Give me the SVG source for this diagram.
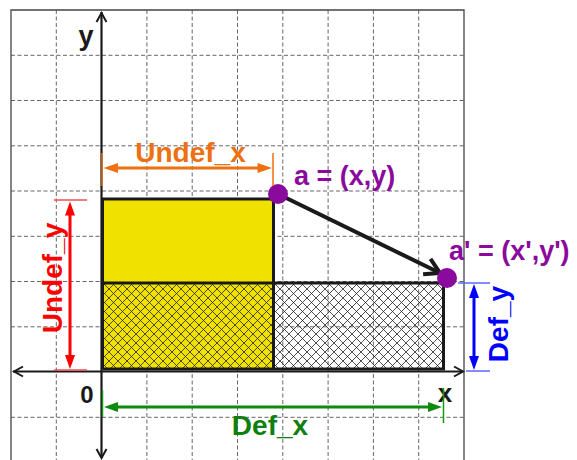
<svg xmlns="http://www.w3.org/2000/svg" width="577" height="460" viewBox="0 0 577 460">
<style>
.grid{stroke:#666;stroke-width:1;stroke-dasharray:4 2.5;fill:none}
.frame{stroke:#444;stroke-width:1.3;fill:none}
.axis{stroke:#1a1a1a;stroke-width:2.2;fill:none}
.chev{stroke:#1a1a1a;stroke-width:2;fill:none;stroke-linejoin:miter}
.box{stroke:#1a1a1a;stroke-width:3;fill:none}
.lbl{font-family:"Liberation Sans",Arial,sans-serif;font-weight:bold}
.pt{fill:#8A0A9E}
</style>
<defs>
<pattern id="hatch" patternUnits="userSpaceOnUse" width="9" height="9" x="1" y="1">
<path d="M0,0 L9,9 M9,0 L0,9 M-1,8 L1,10 M8,-1 L10,1 M8,10 L10,8 M-1,1 L1,-1" stroke="#222" stroke-width="0.8" fill="none"/>
</pattern>
</defs>
<rect width="577" height="460" fill="#fff"/>
<g id="grid">
<path class="grid" d="M56.3,10V460M146.9,10V460M192.2,10V460M237.5,10V460M282.8,10V460M328.1,10V460M373.4,10V460M418.7,10V460"/>
<path class="grid" d="M11,55.3H464M11,100.5H464M11,145.8H464M11,191H464M11,236.3H464M11,281.5H464M11,326.8H464M11,417.3H464"/>
<path class="frame" d="M11,460V10H464V460"/>
</g>
<g id="regions">
<rect id="undef-rect" x="102.5" y="199" width="171" height="84" fill="#F0E100"/>
<rect id="overlap-yellow" x="102.5" y="283" width="171" height="86" fill="#F0E100"/>
<rect id="overlap-hatch" x="102.5" y="283" width="341" height="86" fill="url(#hatch)"/>
<path class="box" d="M102.5,369V199H273.5V369M102.5,283H443.5V369H102.5"/>
</g>
<g id="axes">
<path class="axis" d="M101.5,458V12"/>
<path class="axis" d="M13,371.5H463"/>
<path class="chev" d="M96.5,22L101.5,13L106.5,22"/>
<path class="chev" d="M96.5,449L101.5,458L106.5,449"/>
<path class="chev" d="M23,366.5L14,371.5L23,376.5"/>
<path class="chev" d="M454,366.5L463,371.5L454,376.5"/>
<text class="lbl" x="86" y="45" font-size="27" text-anchor="middle" fill="#1a1a1a">y</text>
<text class="lbl" x="445" y="402" font-size="26" text-anchor="middle" fill="#1a1a1a">x</text>
<text class="lbl" x="87" y="403" font-size="24" text-anchor="middle" fill="#1a1a1a">0</text>
</g>
<g id="connectors">
<path d="M278,194L440,273" stroke="#1a1a1a" stroke-width="4" fill="none"/>
<path d="M430.5,258.9L440,273L423.1,274.3" stroke="#1a1a1a" stroke-width="4" fill="none" stroke-linejoin="miter"/>
</g>
<g id="point-a">
<circle class="pt" cx="278" cy="194" r="10"/>
<text class="lbl" x="294" y="185" font-size="27" fill="#8A0A9E">a = (x,y)</text>
</g>
<g id="point-a2">
<circle class="pt" cx="447" cy="278" r="10"/>
<text class="lbl" x="449" y="260" font-size="27" fill="#8A0A9E">a' = (x',y')</text>
</g>
<g id="undef-x">
<path d="M102,153V186M273,153V186" stroke="#EE7010" stroke-width="1.5"/>
<path d="M115,168H260" stroke="#EE7010" stroke-width="3"/>
<path d="M103.5,168L118,163L118,173Z M272,168L257.5,163L257.5,173Z" fill="#EE7010"/>
<text class="lbl" x="190.5" y="162" font-size="28" text-anchor="middle" fill="#EE7010">Undef_x</text>
</g>
<g id="undef-y">
<path d="M54,200H87M54,370H87" stroke="#F05050" stroke-width="1.5"/>
<path d="M70,212V358" stroke="#FF0000" stroke-width="3"/>
<path d="M70,201.5L65,215.5L75,215.5Z M70,369L65,355L75,355Z" fill="#FF0000"/>
<text class="lbl" transform="translate(62,278) rotate(-90)" font-size="28" text-anchor="middle" fill="#FF0000">Undef_y</text>
</g>
<g id="def-y">
<path d="M458,283H490M466,371H490" stroke="#5A6AFF" stroke-width="1.5"/>
<path d="M474,295V359" stroke="#0000FF" stroke-width="3"/>
<path d="M474,284L469,298L479,298Z M474,370L469,356L479,356Z" fill="#0000FF"/>
<text class="lbl" transform="translate(508,324) rotate(-90)" font-size="28" text-anchor="middle" fill="#0000FF">Def_y</text>
</g>
<g id="def-x">
<path d="M102.5,390V417M443.5,388V423" stroke="#129A12" stroke-width="1.5"/>
<path d="M115,407H430" stroke="#0E8A0E" stroke-width="3"/>
<path d="M104,407L118,402L118,412Z M442,407L428,402L428,412Z" fill="#0E8A0E"/>
<text class="lbl" x="270" y="435" font-size="28" text-anchor="middle" fill="#0E800E">Def_x</text>
</g>
</svg>
